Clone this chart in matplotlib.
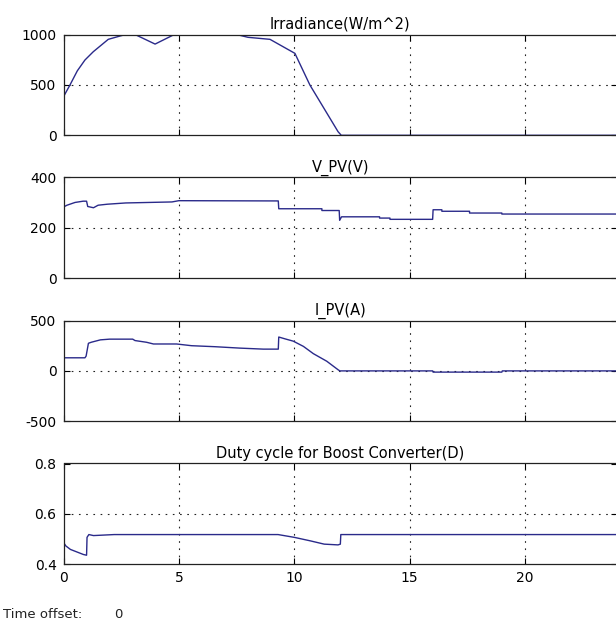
import matplotlib
matplotlib.use("Agg")
import matplotlib.pyplot as plt

plt.rcParams['font.family'] = 'DejaVu Sans'

# --- data ---
# Irradiance (W/m^2)
irr_t = [0, 0.28, 0.6, 0.93, 1.29, 1.94, 2.45, 2.7, 3.1, 3.97, 4.76, 5.0, 7.5, 8.0, 8.95,
         10.03, 10.68, 11.9, 12.04, 24]
irr_v = [383, 499, 640, 747, 829, 952, 985, 1000, 1000, 905, 995, 1000, 1000, 972, 952,
         813, 499, 36, 0, 0]

# PV voltage (V)
v_t = [0, 0.0, 0.15, 0.5, 0.85, 1.0, 1.05, 1.3, 1.5, 1.9, 2.7, 4.7, 5.0, 9.31, 9.33,
       11.2, 11.2, 11.95, 11.97, 12.05, 13.7, 13.7, 14.15, 14.15, 16.0, 16.02, 16.4,
       16.4, 17.6, 17.6, 19.0, 19.0, 24]
v_v = [0, 283, 290, 301, 306, 306, 285, 280, 290, 294, 299, 303, 308, 307, 276,
       276, 269, 269, 230, 244, 244, 239, 239, 234, 234, 272, 272, 266, 266, 259,
       259, 255, 255]

# PV current (A)
i_t = [0, 0.93, 0.98, 1.08, 1.2, 1.6, 2.0, 3.0, 3.1, 3.6, 3.9, 4.9, 5.55, 6.57, 7.65,
       8.66, 9.31, 9.33, 9.6, 9.96, 10.4, 10.83, 11.41, 11.91, 11.98, 16.0, 16.02,
       19.0, 19.02, 24]
i_v = [130, 130, 147, 274, 284, 308, 315, 315, 301, 284, 267, 267, 250, 240, 226,
       216, 216, 336, 318, 295, 243, 171, 96, 10, 0, 0, -12, -12, 0, 0]

# Duty cycle
d_t = [0, 0.1, 0.3, 0.86, 1.0, 1.02, 1.1, 1.3, 2.2, 9.3, 10.0, 10.7, 11.3, 11.9,
       12.0, 12.02, 24]
d_v = [0.487, 0.473, 0.459, 0.439, 0.436, 0.507, 0.518, 0.514, 0.518, 0.518, 0.507,
       0.493, 0.480, 0.477, 0.480, 0.518, 0.518]

titles = ['Irradiance(W/m^2)', 'V_PV(V)', 'I_PV(A)', 'Duty cycle for Boost Converter(D)']
ylims = [(0, 1000), (0, 400), (-500, 500), (0.4, 0.8)]
yticks = [[0, 500, 1000], [0, 200, 400], [-500, 0, 500], [0.4, 0.6, 0.8]]
ytick_labels = [['0', '500', '1000'], ['0', '200', '400'], ['-500', '0', '500'],
                ['0.4', '0.6', '0.8']]
xticks = [0, 5, 10, 15, 20]
series = [(irr_t, irr_v), (v_t, v_v), (i_t, i_v), (d_t, d_v)]

line_color = '#2a2a8a'

fig = plt.figure(figsize=(6.16, 6.23), dpi=100)
fig.patch.set_facecolor('white')

left = 63.5 / 616
width = (617.2 - 63.5) / 616
height = 100.8 / 623
bottoms_px = [135.3, 278.3, 421.3, 564.3]

for k, (t, v) in enumerate(series):
    ax = fig.add_axes([left, 1 - bottoms_px[k] / 623, width, height])
    ax.plot(t, v, color=line_color, lw=1.0)
    ax.set_xlim(0, 24)
    ax.set_ylim(*ylims[k])
    ax.set_yticks(yticks[k])
    ax.set_yticklabels(ytick_labels[k])
    ax.set_xticks(xticks)
    if k < 3:
        ax.set_xticklabels([])
    ax.grid(True, color='#222222', linestyle=(0, (1.5, 5)), lw=0.8)
    # no grid on the box edges, like the scope
    ygl = ax.get_ygridlines()
    ygl[0].set_visible(False)
    ygl[-1].set_visible(False)
    ax.get_xgridlines()[0].set_visible(False)
    ax.tick_params(direction='in', length=4, width=0.8, top=True, right=True,
                   labelsize=10, pad=5, colors='black')
    for sp in ax.spines.values():
        sp.set_linewidth(0.9)
        sp.set_color('#222222')
    ax.set_title(titles[k], fontsize=10.5, pad=4)

fig.text(3 / 616, 1 - 615 / 623, 'Time offset:', fontsize=9.5, va='center',
         ha='left', color='#222222')
fig.text(114 / 616, 1 - 615 / 623, '0', fontsize=9.5, va='center',
         ha='left', color='#222222')

fig.savefig('out.png', dpi=100)
